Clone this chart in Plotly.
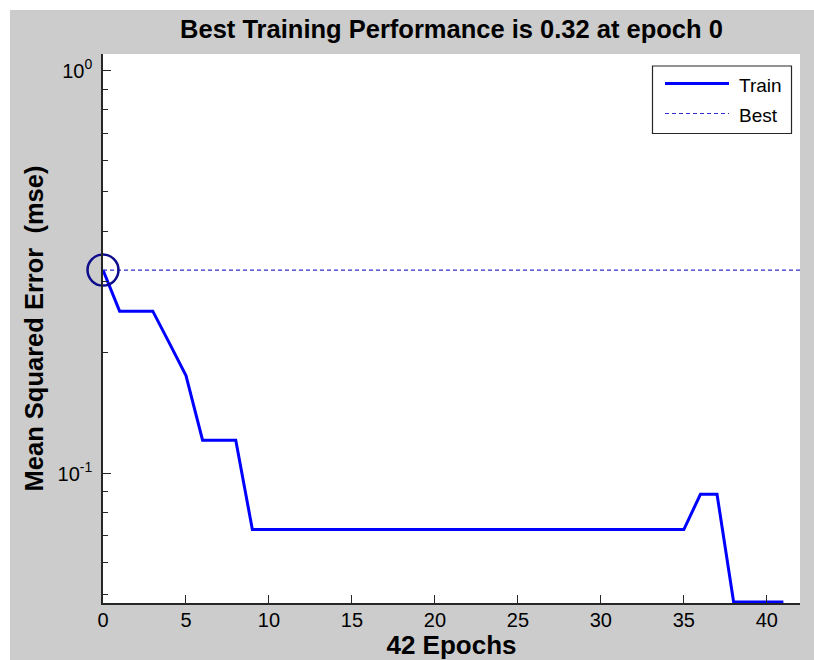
import plotly.graph_objects as go

# Data
epochs = list(range(0, 42))
train_mse = ([0.320, 0.253, 0.253, 0.253, 0.2107, 0.175, 0.121, 0.121, 0.121]
             + [0.0726] * 27
             + [0.0888, 0.0888]
             + [0.0480] * 4)
best_epoch = 0
best_value = 0.32
x_range = [0, 42]
y_tickvals = [0.1, 1]
y_ticktext = ["10<sup>-1</sup>", "10<sup>0</sup>"]
y_minor_vals = [0.05, 0.06, 0.07, 0.08, 0.09, 0.2, 0.3, 0.4, 0.5, 0.6, 0.7, 0.8, 0.9]
x_tickvals = [0, 5, 10, 15, 20, 25, 30, 35, 40]
legend_names = ["Train", "Best"]

FONT = "Liberation Sans, Arial, sans-serif"
W, H = 814, 660
ML, MR, MT, MB = 103, 14, 54, 57
PW, PH = W - ML - MR, H - MT - MB


def px_x(px):
    return (px - ML) / PW


def px_y(py):
    return (H - MB - py) / PH


TRAIN_COLOR = "#0000ff"
BEST_COLOR = "#3030cc"

fig = go.Figure()
fig.add_trace(go.Scatter(
    x=epochs, y=train_mse, mode="lines", name=legend_names[0], showlegend=False,
    line=dict(color=TRAIN_COLOR, width=3), cliponaxis=False,
))
fig.add_trace(go.Scatter(
    x=x_range, y=[best_value, best_value], mode="lines", name=legend_names[1],
    showlegend=False,
    line=dict(color=BEST_COLOR, width=1.2, dash="4px,3px"),
))
fig.add_trace(go.Scatter(
    x=[best_epoch], y=[best_value], mode="markers", showlegend=False,
    marker=dict(symbol="circle-open", size=31, color="#0c0c8c",
                line=dict(width=2.5, color="#0c0c8c")),
    cliponaxis=False,
))

shapes = [
    # white page border at top and left (figure window edge)
    dict(type="rect", xref="paper", yref="paper", layer="above",
         x0=px_x(-5), x1=px_x(W + 5), y0=px_y(10), y1=px_y(-5),
         fillcolor="#ffffff", line=dict(width=0)),
    dict(type="rect", xref="paper", yref="paper", layer="above",
         x0=px_x(-5), x1=px_x(10), y0=px_y(H + 5), y1=px_y(-5),
         fillcolor="#ffffff", line=dict(width=0)),
    # legend box
    dict(type="rect", xref="paper", yref="paper", layer="above",
         x0=px_x(652.5), x1=px_x(791.5), y0=px_y(133.5), y1=px_y(66),
         fillcolor="#ffffff", line=dict(color="#262626", width=1.2)),
    dict(type="line", xref="paper", yref="paper", layer="above",
         x0=px_x(665), x1=px_x(729), y0=px_y(83.5), y1=px_y(83.5),
         line=dict(color=TRAIN_COLOR, width=3)),
    dict(type="line", xref="paper", yref="paper", layer="above",
         x0=px_x(665), x1=px_x(729), y0=px_y(113.5), y1=px_y(113.5),
         line=dict(color=BEST_COLOR, width=1.2, dash="4px,3px")),
]

annotations = [
    dict(text=legend_names[0], xref="paper", yref="paper", x=px_x(737),
         y=px_y(85), xanchor="left", yanchor="middle", showarrow=False,
         font=dict(size=19, family=FONT, color="#000000")),
    dict(text=legend_names[1], xref="paper", yref="paper", x=px_x(737),
         y=px_y(115.5), xanchor="left", yanchor="middle", showarrow=False,
         font=dict(size=19, family=FONT, color="#000000")),
]

fig.update_layout(
    width=W, height=H,
    margin=dict(l=ML, r=MR, t=MT, b=MB, autoexpand=False),
    paper_bgcolor="#cccccc",
    plot_bgcolor="#ffffff",
    font=dict(family=FONT, color="#000000"),
    title=dict(text="<b>Best Training Performance is 0.32 at epoch 0</b>",
               font=dict(size=25.5, family=FONT), x=0.5, xref="paper",
               xanchor="center", y=1 - 29 / H, yanchor="middle"),
    showlegend=False,
    shapes=shapes,
    annotations=annotations,
    xaxis=dict(
        range=x_range, tickmode="array", tickvals=x_tickvals,
        ticks="inside", ticklen=8, tickwidth=1, tickcolor="#262626",
        showline=True, linecolor="#262626", linewidth=1.5,
        showgrid=False, zeroline=False, mirror=False, automargin=False,
        tickfont=dict(size=20, family=FONT),
        ticklabelstandoff=-2,
        title=dict(text="<b>42 Epochs</b>", font=dict(size=26, family=FONT), standoff=11),
    ),
    yaxis=dict(
        type="log", range=[-1.3214, 0.0415],
        tickmode="array", tickvals=y_tickvals, ticktext=y_ticktext,
        ticks="inside", ticklen=8, tickwidth=1, tickcolor="#262626",
        minor=dict(tickmode="array", tickvals=y_minor_vals, ticks="inside",
                   ticklen=5, tickwidth=1, tickcolor="#262626", showgrid=False),
        showline=True, linecolor="#262626", linewidth=1.5,
        showgrid=False, zeroline=False, mirror=False, automargin=False,
        tickfont=dict(size=20, family=FONT),
        ticklabelstandoff=5,
        title=dict(text="<b>Mean Squared Error &nbsp;(mse)</b>", font=dict(size=25.5, family=FONT), standoff=7),
    ),
)

fig.write_html("out.html", config={"displayModeBar": False},
               post_script="document.body.style.margin='0px';")
